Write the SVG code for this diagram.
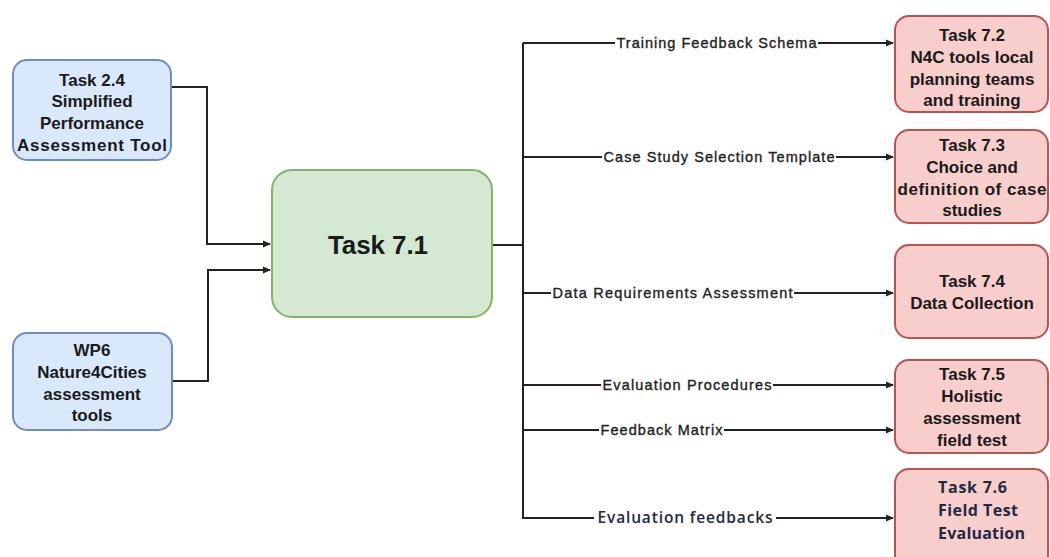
<svg xmlns="http://www.w3.org/2000/svg" width="1050" height="557" viewBox="0 0 1050 557">
  <style>
    .blue { fill: #dae8fc; stroke: #6c8ebf; stroke-width: 2; }
    .green { fill: #d5e8d4; stroke: #82b366; stroke-width: 2; }
    .red { fill: #f8cecc; stroke: #b85450; stroke-width: 2; }
    .nt { font-family: "Liberation Sans", Arial, sans-serif; font-weight: bold; font-size: 17px; fill: #1a1a1a; text-anchor: middle; }
    .nt2 { font-family: "Open Sans", "Liberation Sans", sans-serif; font-weight: bold; font-size: 16px; fill: #1f2a44; }
    .big { font-family: "Liberation Sans", Arial, sans-serif; font-weight: bold; font-size: 26px; fill: #1a1a1a; text-anchor: middle; }
    .wire { fill: none; stroke: #222; stroke-width: 2; }
    .lbl { font-family: "Liberation Sans", Arial, sans-serif; font-size: 14.5px; fill: #222; text-anchor: middle; stroke: #222; stroke-width: 0.35; }
    .lbl2 { font-family: "Open Sans", "Liberation Sans", sans-serif; font-size: 15.5px; font-weight: 600; fill: #1f2a44; text-anchor: middle; }
    .bg { fill: #ffffff; }
  </style>
  <defs>
    <marker id="arr" markerWidth="8" markerHeight="8" refX="7" refY="4" orient="auto" markerUnits="userSpaceOnUse">
      <path d="M0,0.5 L8,4 L0,7.5 Z" fill="#222"/>
    </marker>
  </defs>
  <rect width="1050" height="557" fill="#ffffff"/>

  <!-- connectors -->
  <g id="connectors">
    <path class="wire" d="M171,87 H207 V244 H270" marker-end="url(#arr)"/>
    <path class="wire" d="M172,381 H208 V270 H270" marker-end="url(#arr)"/>
    <path class="wire" d="M492,245 H523"/>
    <path class="wire" d="M492,245 V270" stroke-width="1.5"/>
    <path class="wire" d="M523,43 V518"/>
    <path class="wire" d="M523,43 H893" marker-end="url(#arr)"/>
    <path class="wire" d="M523,157 H893" marker-end="url(#arr)"/>
    <path class="wire" d="M523,293 H893" marker-end="url(#arr)"/>
    <path class="wire" d="M523,385 H893" marker-end="url(#arr)"/>
    <path class="wire" d="M523,430 H893" marker-end="url(#arr)"/>
    <path class="wire" d="M522,518 H893" marker-end="url(#arr)"/>

    <rect class="bg" x="615" y="34" width="203" height="18"/>
    <text class="lbl" x="716.5" y="48" textLength="200">Training Feedback Schema</text>
    <rect class="bg" x="602" y="148" width="234" height="18"/>
    <text class="lbl" x="719" y="162" textLength="231">Case Study Selection Template</text>
    <rect class="bg" x="551" y="284" width="243" height="18"/>
    <text class="lbl" x="672.5" y="298" textLength="240">Data Requirements Assessment</text>
    <rect class="bg" x="601" y="376" width="172" height="18"/>
    <text class="lbl" x="687" y="390" textLength="169">Evaluation Procedures</text>
    <rect class="bg" x="599" y="421" width="125" height="18"/>
    <text class="lbl" x="661.5" y="435" textLength="122">Feedback Matrix</text>
    <rect class="bg" x="594" y="506" width="182" height="22"/>
    <text class="lbl2" x="685" y="523" textLength="175">Evaluation feedbacks</text>
  </g>

  <g id="task-2-4">
    <rect class="blue" x="13" y="60" width="158" height="100" rx="14"/>
    <text class="nt" x="92" y="86">Task 2.4</text>
    <text class="nt" x="92" y="107">Simplified</text>
    <text class="nt" x="92" y="129">Performance</text>
    <text class="nt" x="92" y="151" textLength="150">Assessment Tool</text>
  </g>

  <g id="wp6">
    <rect class="blue" x="13" y="333" width="159" height="97" rx="14"/>
    <text class="nt" x="92" y="356">WP6</text>
    <text class="nt" x="92" y="378">Nature4Cities</text>
    <text class="nt" x="92" y="400">assessment</text>
    <text class="nt" x="92" y="421">tools</text>
  </g>

  <g id="task-7-1">
    <rect class="green" x="272" y="170" width="220" height="147" rx="20"/>
    <text class="big" x="378" y="254" textLength="100">Task 7.1</text>
  </g>

  <g id="task-7-2">
    <rect class="red" x="895" y="16" width="153" height="96" rx="14"/>
    <text class="nt" x="972" y="41">Task 7.2</text>
    <text class="nt" x="972" y="63">N4C tools local</text>
    <text class="nt" x="972" y="85">planning teams</text>
    <text class="nt" x="972" y="106">and training</text>
  </g>

  <g id="task-7-3">
    <rect class="red" x="895" y="130" width="153" height="93" rx="14"/>
    <text class="nt" x="972" y="151">Task 7.3</text>
    <text class="nt" x="972" y="173">Choice and</text>
    <text class="nt" x="972" y="195" textLength="149">definition of case</text>
    <text class="nt" x="972" y="216">studies</text>
  </g>

  <g id="task-7-4">
    <rect class="red" x="895" y="245" width="153" height="93" rx="14"/>
    <text class="nt" x="972" y="287">Task 7.4</text>
    <text class="nt" x="972" y="309">Data Collection</text>
  </g>

  <g id="task-7-5">
    <rect class="red" x="895" y="360" width="153" height="93" rx="14"/>
    <text class="nt" x="972" y="380">Task 7.5</text>
    <text class="nt" x="972" y="402">Holistic</text>
    <text class="nt" x="972" y="424">assessment</text>
    <text class="nt" x="972" y="446">field test</text>
  </g>

  <g id="task-7-6">
    <rect class="red" x="895" y="469" width="153" height="100" rx="14"/>
    <text class="nt2" x="938" y="493" textLength="69">Task 7.6</text>
    <text class="nt2" x="938" y="516" textLength="80">Field Test</text>
    <text class="nt2" x="938" y="539" textLength="87">Evaluation</text>
  </g>
</svg>
